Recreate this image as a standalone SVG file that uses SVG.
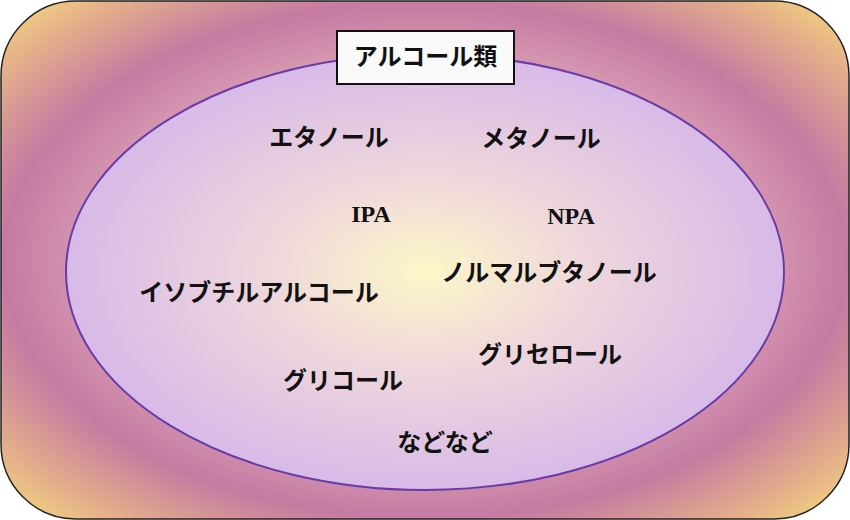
<svg xmlns="http://www.w3.org/2000/svg" width="850" height="520" viewBox="0 0 850 520">
<defs>
<radialGradient id="bg" cx="50%" cy="50%" r="71%">
<stop offset="0" stop-color="#f6e6ea"/>
<stop offset="0.45" stop-color="#e2b0bc"/>
<stop offset="0.7" stop-color="#c57aa2"/>
<stop offset="0.88" stop-color="#e6b488"/>
<stop offset="1" stop-color="#f6e078"/>
</radialGradient>
<radialGradient id="el" cx="50%" cy="50%" r="50%">
<stop offset="0" stop-color="#fdf7c8"/>
<stop offset="0.45" stop-color="#eed6dc"/>
<stop offset="1" stop-color="#d8bae8"/>
</radialGradient>
<style>
.t{font-family:"Noto Sans CJK JP","Noto Sans",sans-serif;font-weight:bold;font-size:24px;fill:#111;text-anchor:middle;}
.s{font-family:"Liberation Serif",serif;font-weight:bold;font-size:24px;fill:#111;text-anchor:middle;}
</style>
</defs>
<g id="background"><rect x="1" y="1" width="848" height="518" rx="75" fill="url(#bg)" stroke="#222" stroke-width="1.5"/></g>
<g id="ellipse"><ellipse cx="425" cy="272" rx="359" ry="218" fill="url(#el)" stroke="#6a3aa8" stroke-width="2"/></g>
<g id="title"><rect x="337" y="31" width="177" height="53" fill="#fafafa" stroke="#111" stroke-width="2"/><text class="t" x="425.5" y="65">アルコール類</text></g>
<g id="n1"><text class="t" x="329" y="146">エタノール</text></g>
<g id="n2"><text class="t" x="541" y="147">メタノール</text></g>
<g id="n3"><text class="s" x="371" y="222">IPA</text></g>
<g id="n4"><text class="s" x="571" y="224">NPA</text></g>
<g id="n5"><text class="t" x="259" y="301">イソブチルアルコール</text></g>
<g id="n6"><text class="t" x="549" y="281">ノルマルブタノール</text></g>
<g id="n7"><text class="t" x="550" y="363">グリセロール</text></g>
<g id="n8"><text class="t" x="343" y="389">グリコール</text></g>
<g id="n9"><text class="t" x="445" y="451">などなど</text></g>
<g id="connectors"></g>
</svg>
